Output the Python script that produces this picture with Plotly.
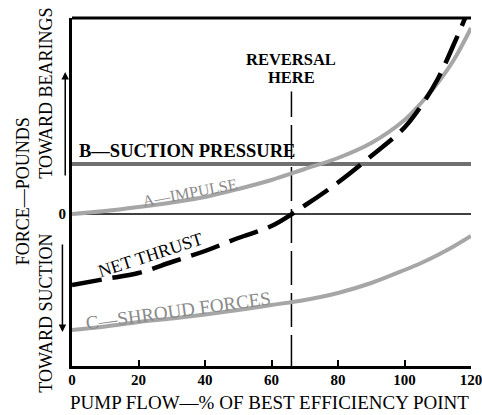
import plotly.graph_objects as go

# pump flow, % of best efficiency point
flow = [0, 10, 20, 30, 40, 50, 60, 70, 80, 90, 100, 105, 110, 115, 120]

# forces (arbitrary units, + toward bearings)
impulse = [0, 0.06, 0.14, 0.23, 0.34, 0.5, 0.68, 0.9, 1.12, 1.42, 1.88, 2.22, 2.62, 3.1, 3.72]
suction = [1.0] * 15
shroud = [-2.32, -2.25, -2.16, -2.09, -2.01, -1.92, -1.82, -1.72, -1.58, -1.38, -1.12, -0.98, -0.82, -0.64, -0.44]
net = [-1.42, -1.3, -1.18, -0.96, -0.74, -0.48, -0.24, 0.17, 0.63, 1.16, 1.73, 2.16, 2.7, 3.42, 4.2]

reversal = 66
xticks = [0, 20, 40, 60, 80, 100, 120]

SERIF = "Liberation Serif"
GRAY = "#a6a6a6"

fig = go.Figure()
fig.add_trace(go.Scatter(x=[0, 120], y=[0, 0], mode='lines', line=dict(color='black', width=1.5)))
fig.add_trace(go.Scatter(x=[reversal, reversal], y=[-3.1, 2.45], mode='lines',
                         line=dict(color='black', width=1.5, dash='34px,8px')))
fig.add_trace(go.Scatter(x=flow, y=suction, mode='lines', line=dict(color='#707070', width=4)))
fig.add_trace(go.Scatter(x=flow, y=impulse, mode='lines', line=dict(color=GRAY, width=4, shape='spline')))
fig.add_trace(go.Scatter(x=flow, y=shroud, mode='lines', line=dict(color=GRAY, width=4, shape='spline')))
fig.add_trace(go.Scatter(x=flow, y=net, mode='lines',
                         line=dict(color='black', width=4.5, dash='30px,11px', shape='spline')))

fig.update_layout(
    width=482, height=415, showlegend=False,
    plot_bgcolor='white', paper_bgcolor='white',
    margin=dict(l=72, r=0, t=18, b=49),
    font=dict(family=SERIF, size=18, color='black'),
)
fig.update_xaxes(range=[0, 120], tickvals=xticks, ticks='inside', ticklen=6, tickwidth=1.5,
                 tickcolor='black', showline=True, linewidth=3, linecolor='black',
                 showgrid=False, zeroline=False, ticklabeloverflow='allow', ticklabelstandoff=-2,
                 tickfont=dict(size=15, weight='bold'))
fig.update_yaxes(range=[-3.04, 3.92], tickvals=[0], ticktext=['0'], ticks='',
                 showline=True, linewidth=3, linecolor='black',
                 showgrid=False, zeroline=False, tickfont=dict(size=15, weight='bold'))

# top border
fig.add_shape(type='line', xref='paper', yref='paper', x0=0, x1=1, y0=1, y1=1,
              line=dict(color='black', width=3))

ann = [
    dict(x=reversal, y=3.1, text='REVERSAL', font=dict(size=16.5, weight='bold')),
    dict(x=reversal, y=2.73, text='HERE', font=dict(size=16.5, weight='bold')),
    dict(x=1.4, y=1.26, text='B—SUCTION PRESSURE', xanchor='left', font=dict(size=18.5, weight='bold')),
    dict(x=35.5, y=0.43, text='A—IMPULSE', textangle=-10.6, font=dict(size=16, color='#8a8a8a')),
    dict(x=23.5, y=-0.82, text='NET THRUST', textangle=-18, font=dict(size=18)),
    dict(x=32, y=-1.92, text='C—SHROUD FORCES', textangle=-7.8, font=dict(size=19, color='#8a8a8a')),
]
for a in ann:
    fig.add_annotation(xref='x', yref='y', showarrow=False, **a)

# axis titles
fig.add_annotation(xref='paper', yref='paper', x=0.495, y=-0.106, showarrow=False,
                   xanchor='center', yanchor='middle',
                   text='PUMP FLOW—% OF BEST EFFICIENCY POINT', font=dict(size=19))
ylabels = [(-0.122, 0.46, 'FORCE—POUNDS'),
           (-0.066, 2.42, 'TOWARD BEARINGS'),
           (-0.066, -1.98, 'TOWARD SUCTION')]
for xp, yv, txt in ylabels:
    fig.add_annotation(xref='paper', yref='y', x=xp, y=yv, showarrow=False, text=txt,
                       textangle=-90, xanchor='center', yanchor='middle', font=dict(size=18))

# direction arrows
fig.add_annotation(xref='paper', yref='y', x=-0.017, y=2.84, ax=0, ay=105, text='',
                   showarrow=True, arrowhead=2, arrowsize=1, arrowwidth=1.5, arrowcolor='black')
fig.add_annotation(xref='paper', yref='y', x=-0.024, y=-2.36, ax=0, ay=-89, text='',
                   showarrow=True, arrowhead=2, arrowsize=1, arrowwidth=1.5, arrowcolor='black')

fig.write_html("out.html", config={'displayModeBar': False},
               post_script="document.body.style.margin='0px';")
